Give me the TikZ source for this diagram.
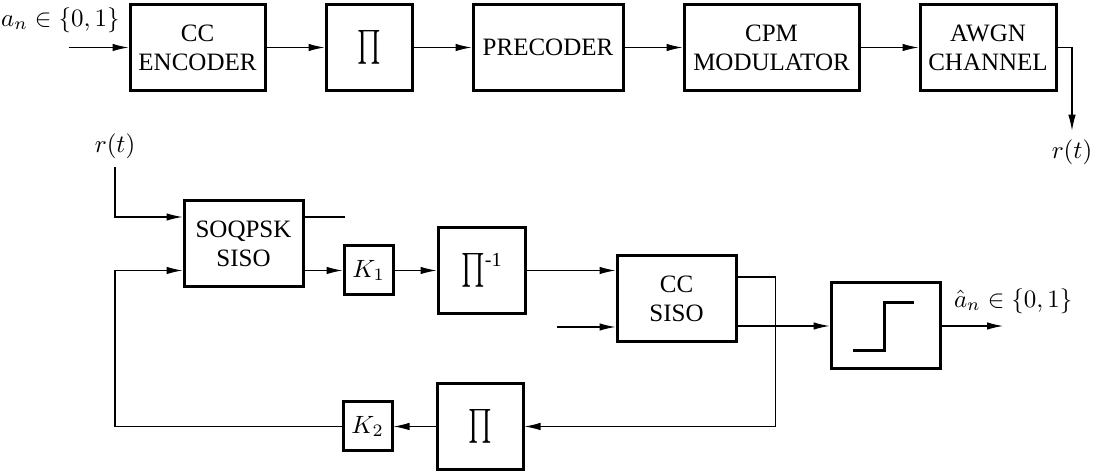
\documentclass[tikz,border=0pt]{standalone}
\usepackage{fontspec}
\setmainfont{Liberation Serif}
\usepackage{graphicx}
\usetikzlibrary{arrows.meta,positioning}
\newcommand{\bigP}{\scalebox{1.0}[1.35]{$\prod$}}

\begin{document}
\begin{tikzpicture}[
  x=1pt, y=1pt,
  node distance=23.2pt,
  every node/.style={font=\fontsize{10}{11.5}\selectfont, align=center},
  box/.style={draw, line width=1.2pt, minimum height=34.4pt, inner sep=0pt},
  gain/.style={draw, line width=1.2pt, minimum width=19.6pt, minimum height=19.6pt, inner sep=0pt},
  wire/.style={line width=0.45pt},
  arrow/.style={wire, -{Latex[length=6.4pt,width=3pt]}}
]
  \useasboundingbox (0,0) rectangle (437.6,-189.2);

  % Transmitter
  \node (enc) [box, minimum width=54pt] at (79,-19) {CC\\ENCODER};
  \node (pi1) [box, minimum width=34.4pt, right=of enc] {\bigP};
  \node (pre) [box, minimum width=60pt, right=of pi1] {PRECODER};
  \node (cpm) [box, minimum width=70pt, right=of pre] {CPM\\MODULATOR};
  \node (awgn) [box, minimum width=54.4pt, right=of cpm] {AWGN\\CHANNEL};
  \coordinate (src) at ([xshift=-24pt]enc.west);
  \node (an) [anchor=south east] at ([yshift=2.5pt]enc.west) {$a_n\in\{0,1\}$};
  \node (rtx) at (428.8,-60.8) {$r(t)$};

  \draw [arrow] (src) -- (enc);
  \draw [arrow] (enc) -- (pi1);
  \draw [arrow] (pi1) -- (pre);
  \draw [arrow] (pre) -- (cpm);
  \draw [arrow] (cpm) -- (awgn);
  \draw [arrow] (awgn) -| (rtx.north);

  % Receiver
  \node (rrx) at (46,-58.4) {$r(t)$};
  \node (soqpsk) [box, minimum width=47.6pt] at (97.4,-97.6) {SOQPSK\\SISO};
  \node (k1) [gain] at (147.4,-108.2) {$K_1$};
  \node (pinv) [box, minimum width=34.8pt, right=16.8pt of k1] {\bigP\raisebox{5pt}{\fontsize{8}{8}\selectfont -1}};
  \node (ccsiso) [box, minimum width=47.6pt] at (270.6,-119.6) {CC\\SISO};
  \node (dec) [box, minimum width=43.6pt] at (354.2,-130.4) {};
  \node (pi2) [box, minimum width=34.4pt] at (192,-170.6) {\bigP};
  \node (k2) [gain, left=16.8pt of pi2] {$K_2$};
  \node (ahat) [anchor=south west, inner sep=0pt] at ([xshift=4.8pt,yshift=4.8pt]dec.east) {$\hat a_n\in\{0,1\}$};
  \coordinate (stub) at ([xshift=16pt,yshift=10.8pt]soqpsk.east);
  \coordinate (llr) at (222.8,-130.8);
  \coordinate (sink) at (401.2,-130.4);

  \draw [line width=1.2pt] ([shift={(-13pt,-10pt)}]dec.center) -- ++(12.4pt,0) -- ++(0,19.2pt) -- ++(12pt,0);

  \draw [arrow] (rrx) |- ([yshift=10.8pt]soqpsk.west);
  \draw [wire] ([yshift=10.8pt]soqpsk.east) -- (stub);
  \draw [arrow] (soqpsk.east |- k1) -- (k1);
  \draw [arrow] (k1) -- (pinv);
  \draw [arrow] (pinv) -- (pinv -| ccsiso.west);
  \draw [arrow] (llr) -- (llr -| ccsiso.west);
  \draw [arrow] ([yshift=8.8pt]ccsiso.east) -- ++(15.2pt,0) |- (pi2);
  \draw [arrow] (ccsiso.east |- dec) -- (dec);
  \draw [arrow] (dec) -- (sink);
  \draw [arrow] (pi2) -- (k2);
  \draw [arrow] (k2) -| (rrx.south |- k1) -- (soqpsk.west |- k1);
\end{tikzpicture}
\end{document}
